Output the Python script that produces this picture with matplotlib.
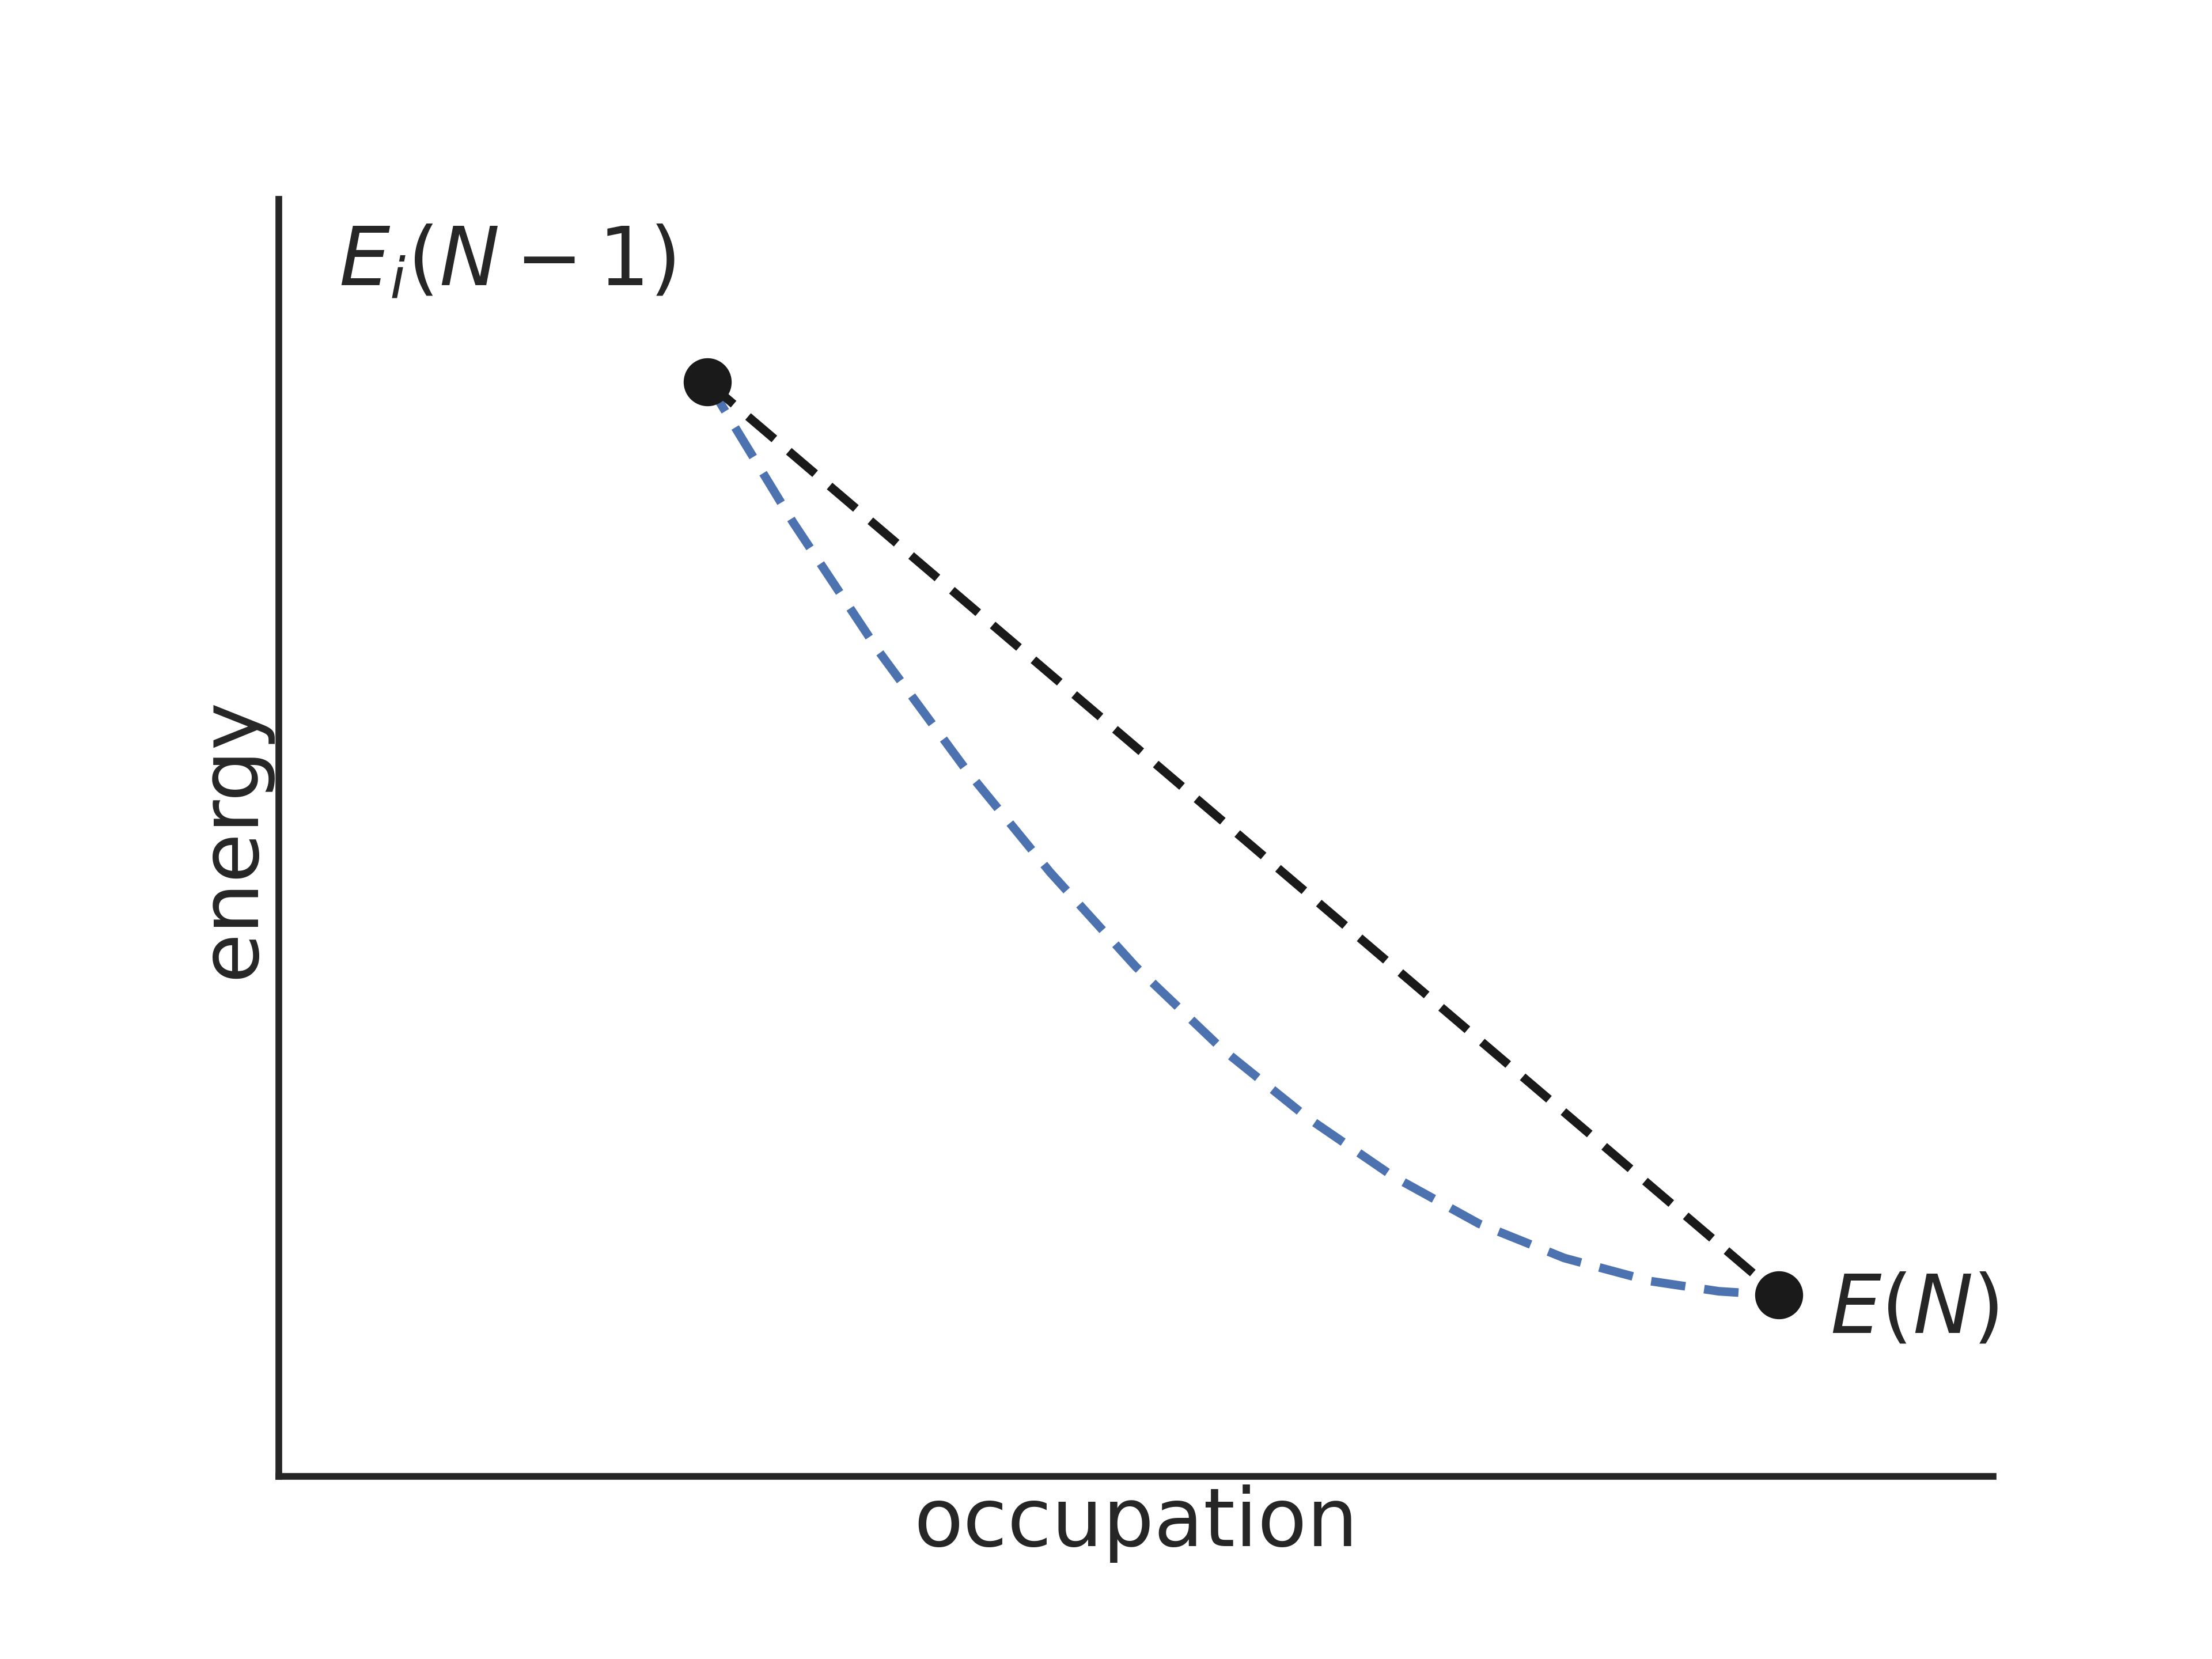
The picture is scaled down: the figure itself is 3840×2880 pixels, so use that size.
import matplotlib.pyplot as plt
import seaborn as sns

sns.set_style("white")
plt.rcParams['font.family'] = ['DejaVu Sans']

# end points
pts_x = [0.25, 0.875]
pts_y = [0.857, 0.142]

# curved (blue) path
curve_x = [0.25, 0.30, 0.35, 0.40, 0.45, 0.50, 0.55, 0.60, 0.65, 0.70, 0.75, 0.80, 0.84, 0.875]
curve_y = [0.857, 0.747, 0.646, 0.555, 0.473, 0.399, 0.335, 0.281, 0.235, 0.198, 0.171, 0.153, 0.145, 0.142]

fig, ax = plt.subplots(figsize=(16, 12), dpi=240)
ax.plot(curve_x, curve_y, '--', color='#4c72b0', lw=4.5, dashes=(4, 2.2))
ax.plot(pts_x, pts_y, '--', color='#1a1a1a', lw=4.5, dashes=(4, 2.2))
ax.plot(pts_x, pts_y, 'o', color='#1a1a1a', ms=24)

ax.text(0.035, 0.95, r'$E_i(N-1)$', fontsize=42, color='#262626', va='center')
ax.text(0.905, 0.13, r'$E(N)$', fontsize=42, color='#262626', va='center')

ax.set_xlim(0, 1)
ax.set_ylim(0, 1)
ax.set_xticks([])
ax.set_yticks([])
ax.set_xlabel('occupation', fontsize=42, color='#262626')
ax.set_ylabel('energy', fontsize=42, color='#262626')
for s in ['top', 'right']:
    ax.spines[s].set_visible(False)
for s in ['left', 'bottom']:
    ax.spines[s].set_linewidth(3.5)
    ax.spines[s].set_color('#262626')

fig.subplots_adjust(left=0.126, right=0.91 - 0.009, top=0.88, bottom=0.11)
fig.savefig('out.png')
